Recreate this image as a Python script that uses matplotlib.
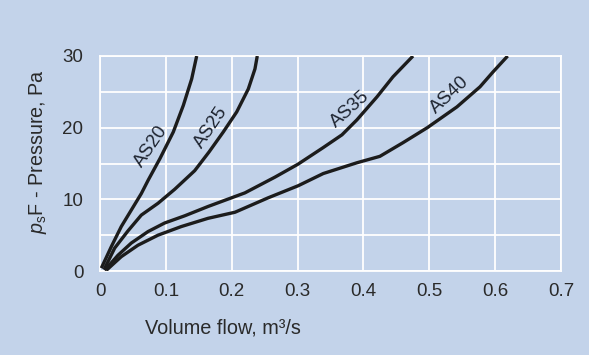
import matplotlib
matplotlib.use("Agg")
import matplotlib.pyplot as plt

plt.rcParams['font.family'] = ['Liberation Sans', 'DejaVu Sans']
plt.rcParams['mathtext.fontset'] = 'custom'
plt.rcParams['mathtext.rm'] = 'Liberation Sans'
plt.rcParams['mathtext.it'] = 'Liberation Sans:italic'

# Data (volume flow m3/s, pressure Pa)
as20_x = [0.002, 0.0172, 0.0323, 0.0475, 0.0627, 0.0733, 0.0911, 0.1113, 0.1265, 0.1392, 0.1468]
as20_y = [0.4, 3.4, 6.2, 8.5, 10.8, 12.7, 15.7, 19.4, 23.1, 26.8, 30.0]

as25_x = [0.0061, 0.0223, 0.0425, 0.0627, 0.0881, 0.1134, 0.1438, 0.1655, 0.1872, 0.2076, 0.2252, 0.2353, 0.2388]
as25_y = [0.2, 3.2, 5.6, 7.8, 9.45, 11.4, 14.0, 16.6, 19.4, 22.2, 25.4, 28.2, 30.0]

as35_x = [0.0071, 0.0273, 0.0475, 0.0729, 0.0982, 0.1286, 0.164, 0.220, 0.2657, 0.3006, 0.3386, 0.3674, 0.3902, 0.4206, 0.4449, 0.4753]
as35_y = [0.1, 2.2, 3.9, 5.5, 6.7, 7.7, 9.0, 10.9, 13.1, 14.9, 17.2, 19.0, 21.1, 24.3, 27.1, 30.0]

as40_x = [0.0096, 0.0323, 0.0577, 0.0881, 0.1234, 0.164, 0.205, 0.255, 0.301, 0.339, 0.390, 0.425, 0.460, 0.497, 0.542, 0.577, 0.597, 0.619]
as40_y = [0.1, 2.0, 3.6, 5.0, 6.2, 7.35, 8.2, 10.2, 11.9, 13.6, 15.1, 16.0, 17.9, 20.0, 22.9, 25.7, 27.8, 30.0]

series = [(as20_x, as20_y), (as25_x, as25_y), (as35_x, as35_y), (as40_x, as40_y)]

labels = ['AS20', 'AS25', 'AS35', 'AS40']
label_x = [0.0770, 0.1680, 0.3800, 0.5310]
label_y = [17.4, 20.1, 22.6, 24.5]
label_rot = [56, 56, 42, 43]

x_ticks = [0, 0.1, 0.2, 0.3, 0.4, 0.5, 0.6, 0.7]
x_tick_labels = ['0', '0.1', '0.2', '0.3', '0.4', '0.5', '0.6', '0.7']
y_ticks = [0, 10, 20, 30]
y_minor = [5, 15, 25]

bg = '#c3d3ea'
fig = plt.figure(figsize=(5.89, 3.55), dpi=100, facecolor=bg)
ax = fig.add_axes([100/589, 1-271/355, 461/589, 215/355], facecolor=bg)

for xs, ys in series:
    ax.plot(xs, ys, color='#1c1c1c', lw=2.4, solid_capstyle='butt',
            solid_joinstyle='round', zorder=3)

for t, lx, ly, r in zip(labels, label_x, label_y, label_rot):
    ax.text(lx, ly, t, rotation=r, rotation_mode='anchor', ha='center', va='center',
            fontsize=13.5, color='#1e2430', zorder=4)

ax.set_xlim(0, 0.7)
ax.set_ylim(0, 30)
ax.set_xticks(x_ticks)
ax.set_xticklabels(x_tick_labels)
ax.set_yticks(y_ticks)
ax.set_yticks(y_minor, minor=True)
ax.grid(True, which='both', color='white', lw=1.3)
ax.set_axisbelow(True)
ax.tick_params(which='both', length=0, labelsize=13.5, colors='#2a2a2a')
ax.tick_params(axis='y', pad=12)
ax.tick_params(axis='x', pad=9)
for s in ax.spines.values():
    s.set_color('white')
    s.set_linewidth(1.3)

fig.text(145/589, 1-333/355, 'Volume flow, m³/s', fontsize=14.3, color='#2a2a2a',
         ha='left', va='baseline')
fig.text(38/589, 1-152/355, r'$p_{\rm s}$F - Pressure, Pa', rotation=90, fontsize=14.2,
         color='#2a2a2a', ha='center', va='center')

fig.savefig('out.png', dpi=100, facecolor=bg)
